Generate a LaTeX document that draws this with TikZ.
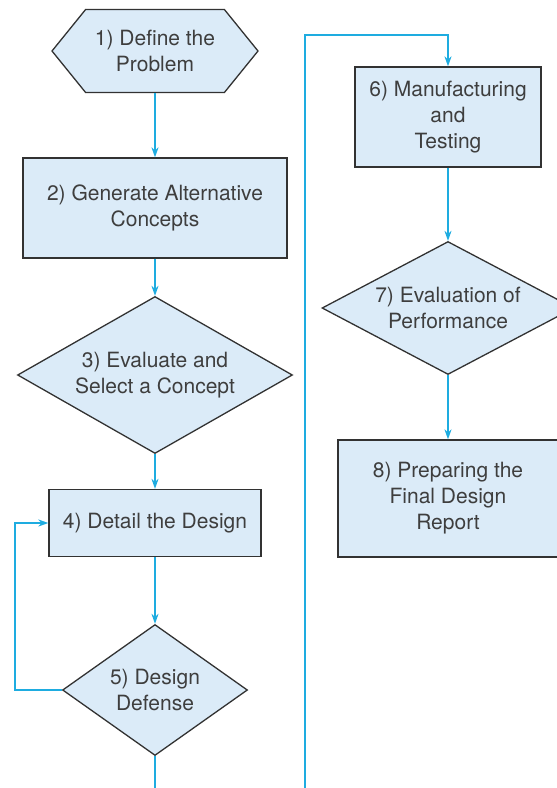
\documentclass[tikz,border=0pt]{standalone}
\usepackage{fontspec}
\setmainfont{TeX Gyre Heros}
\usetikzlibrary{shapes.geometric}
\usetikzlibrary{shapes.symbols}
\usetikzlibrary{arrows.meta}
\definecolor{flowblue}{RGB}{30,172,224}
\definecolor{boxfill}{RGB}{219,235,248}
\definecolor{boxline}{RGB}{50,50,50}
\definecolor{txtgray}{RGB}{62,62,62}

\begin{document}
\begin{tikzpicture}[x=1pt,y=-1pt,>={Stealth[length=10pt,width=7pt]},
        every node/.style={draw=boxline,line width=1.3pt,fill=boxfill,text=txtgray,align=center,inner sep=0pt,
                font=\fontsize{21}{26}\selectfont},
        box/.style={rectangle},
        decide/.style={diamond},
        start/.style={signal,signal to=west and east,signal pointer angle=102},
        flow/.style={->,draw=flowblue,line width=1.8pt}]
        \clip (0,0) rectangle (557,788);
        % left column
        \node[start,minimum width=206pt,minimum height=83pt] (define) at (155,51) {1) Define the\\Problem};
        \node[box,minimum width=264pt,minimum height=100pt] (generate) at (155,208) {2) Generate Alternative\\Concepts};
        \node[decide,aspect=1.75,minimum width=275pt,minimum height=157pt] (select) at (155,375) {3) Evaluate and\\Select a Concept};
        \node[box,minimum width=212pt,minimum height=67pt] (detail) at (155,523) {4) Detail the Design};
        \node[decide,aspect=1.41,minimum width=185pt,minimum height=131pt] (defense) at (155,690) {5) Design\\Defense};
        % right column
        \node[box,minimum width=186pt,minimum height=100pt] (manufacture) at (448,117) {6) Manufacturing\\and\\Testing};
        \node[decide,aspect=1.9,minimum width=252pt,minimum height=133pt] (performance) at (448,308) {7) Evaluation of\\Performance};
        \node[box,minimum width=220pt,minimum height=117pt] (report) at (448,498.5) {8) Preparing the\\Final Design\\Report};
        \coordinate (lowturn) at (305,800);
        \coordinate (topturn) at (305,35);

        \draw[flow] (define) -- (generate);
        \draw[flow] (generate) -- (select);
        \draw[flow] (select) -- (detail);
        \draw[flow] (detail) -- (defense);
        \draw[flow] (defense.west) -- ++(-47,0) |- (detail.west);
        \draw[flow] (defense.south) |- (lowturn) -- (topturn) -| (manufacture.north);
        \draw[flow] (manufacture) -- (performance);
        \draw[flow] (performance) -- (report);
\end{tikzpicture}
\end{document}
